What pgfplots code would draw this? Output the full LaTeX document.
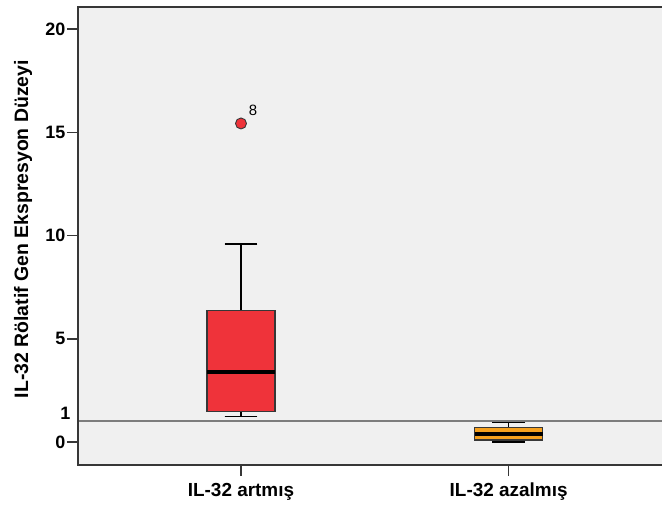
\documentclass[border=0pt]{standalone}
\usepackage{fontspec}
\setmainfont{Liberation Sans}
\usepackage{pgfplots}
\pgfplotsset{compat=1.18}
\usepgfplotslibrary{statistics}

\definecolor{boxred}{RGB}{239,51,58}
\definecolor{boxorange}{RGB}{245,160,30}
\definecolor{panel}{RGB}{240,240,240}
\definecolor{frame}{RGB}{55,55,55}
\definecolor{refgray}{RGB}{125,125,125}

\begin{document}
\begin{tikzpicture}
\begin{axis}[
  scale only axis,
  width=584bp, height=458bp,
  xmin=0.391, xmax=2.573,
  ymin=-1.11, ymax=21.07,
  clip=false,
  axis line style={draw=none},
  axis background/.style={fill=panel},
  xtick={1,2},
  xticklabels={IL-32 artmış, IL-32 azalmış},
  ytick={0,5,10,15,20},
  extra y ticks={1},
  extra y tick style={tick style={draw=none},
    yticklabel style={yshift=8bp, xshift=5bp}},
  tick pos=left,
  tick align=outside,
  major tick length=11bp,
  tick style={frame, line width=1.5bp},
  /pgf/number format/assume math mode=true,
  ticklabel style={font=\fontsize{18}{21}\selectfont\bfseries},
  xticklabel style={font=\fontsize{19}{22}\selectfont\bfseries,
    inner sep=2bp, yshift=-5bp},
  yticklabel style={inner sep=1.5bp},
  ylabel={IL-32 Rölatif Gen Ekspresyon Düzeyi},
  every axis y label/.style={at={([xshift=-55bp]axis description cs:0,0.515)},
    rotate=90, anchor=center, font=\fontsize{19.5}{22}\selectfont\bfseries},
  boxplot/draw direction=y,
  boxplot/every median/.style={line width=3.5bp, black},
  boxplot/every whisker/.style={line width=1.5bp, black},
]
% reference level at 1
\addplot[refgray, line width=2bp] coordinates {(0.391,1) (2.573,1)};

% IL-32 artmış
\addplot[boxplot prepared={draw position=1,
    lower whisker=1.23, lower quartile=1.50, median=3.39,
    upper quartile=6.39, upper whisker=9.59,
    box extend=0.254, whisker extend=0.123},
  fill=boxred, draw=frame, line width=1.2bp] coordinates {};

% IL-32 azalmış
\addplot[boxplot prepared={draw position=2,
    lower whisker=0.01, lower quartile=0.10, median=0.39,
    upper quartile=0.69, upper whisker=0.95,
    box extend=0.254, whisker extend=0.123},
  fill=boxorange, draw=frame, line width=1.2bp] coordinates {};

% outlier (case 8)
\addplot[only marks, mark=*, mark size=5.5bp,
  mark options={fill=boxred, draw=frame, line width=0.9bp},
  point meta=explicit symbolic, nodes near coords,
  nodes near coords style={anchor=center, xshift=12bp, yshift=13bp,
    font=\fontsize{15}{17}\selectfont, text=black}]
  coordinates {(1,15.43) [8]};

% frame: left, top and bottom edges
\draw[frame, line width=2bp] (rel axis cs:1,1) -- (rel axis cs:0,1)
  -- (rel axis cs:0,0) -- (rel axis cs:1,0);
\end{axis}
\pgfresetboundingbox
\useasboundingbox (current axis.south west) ++(-78bp,-43bp)
  rectangle ([yshift=7bp]current axis.north east);
\end{tikzpicture}
\end{document}
